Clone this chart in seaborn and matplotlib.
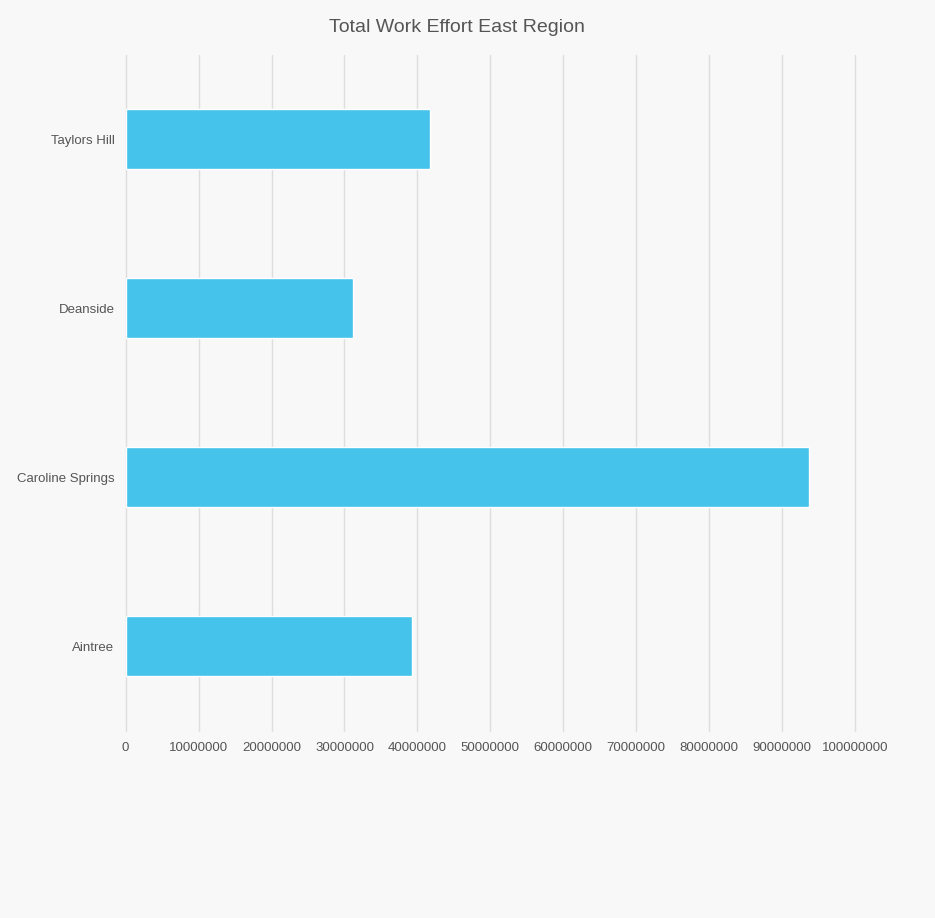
import seaborn as sns
import matplotlib.pyplot as plt
import pandas as pd

sites = ['Taylors Hill', 'Deanside', 'Caroline Springs', 'Aintree']
effort = [41700000, 31200000, 93700000, 39300000]
xticks = list(range(0, 100000001, 10000000))

bg = '#f8f8f8'
text_col = '#555555'

sns.set_style('white')
plt.rcParams['font.family'] = ['Liberation Sans', 'DejaVu Sans']

df = pd.DataFrame({'site': sites, 'effort': effort})

fig = plt.figure(figsize=(9.35, 9.18), dpi=100, facecolor=bg)
ax = fig.add_axes([0.1344, 0.2042, 0.78, 0.7364], facecolor=bg)

sns.barplot(data=df, x='effort', y='site', orient='h', color='#45c3ea',
            saturation=1, width=0.355, ax=ax)

ax.set_xlim(0, 100000000)
ax.set_xticks(xticks)
ax.set_xticklabels([str(t) for t in xticks], fontsize=9.5, color=text_col)
ax.tick_params(axis='y', labelsize=9.5, labelcolor=text_col, length=0, pad=8)
ax.tick_params(axis='x', length=0, pad=8)
ax.xaxis.grid(True, color='#dedede', linewidth=1)
ax.set_axisbelow(True)
for gl in ax.get_xgridlines():
    gl.set_clip_on(False)
sns.despine(ax=ax, left=True, bottom=True)
ax.set_xlabel('')
ax.set_ylabel('')

fig.text(0.489, 0.9705, 'Total Work Effort East Region', ha='center', va='center',
         fontsize=14, color=text_col)

fig.savefig('out.png', dpi=100, facecolor=bg)
